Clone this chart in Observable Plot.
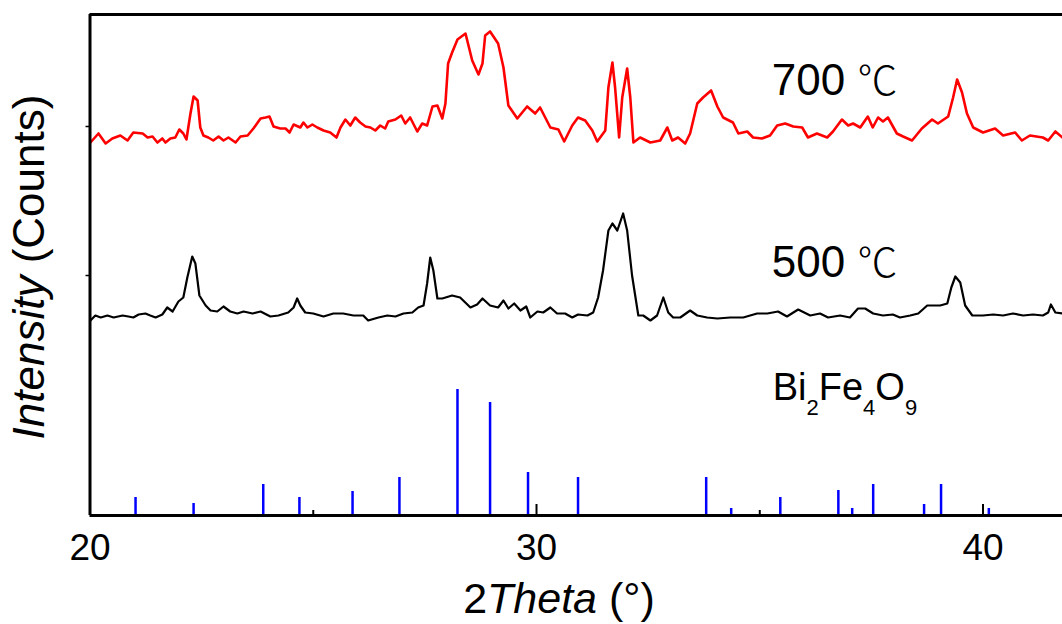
<!DOCTYPE html>
<html><head><meta charset="utf-8">
<script src="https://cdn.jsdelivr.net/npm/d3@7"></script>
<script src="https://cdn.jsdelivr.net/npm/@observablehq/plot@0.6"></script>
<style>html,body{margin:0;padding:0;background:#fff;} svg{display:block;}</style>
</head><body><div id="chart"></div>
<script>
// ---- Data ----
const redTheta = [20.01,20.19,20.35,20.50,20.68,20.84,20.97,21.18,21.29,21.40,
21.51,21.62,21.69,21.80,21.91,22.00,22.09,22.16,22.25,22.32,
22.41,22.47,22.54,22.65,22.76,22.88,22.99,23.10,23.26,23.37,
23.53,23.66,23.82,23.93,24.02,24.11,24.26,24.38,24.47,24.56,
24.71,24.78,24.87,24.98,25.09,25.23,25.38,25.52,25.61,25.72,
25.83,25.94,26.05,26.17,26.28,26.39,26.50,26.61,26.68,26.84,
26.97,27.06,27.17,27.33,27.44,27.55,27.67,27.78,27.89,27.96,
28.02,28.11,28.23,28.41,28.56,28.70,28.79,28.85,28.96,29.14,
29.26,29.37,29.57,29.79,29.97,30.08,30.31,30.49,30.62,30.80,
30.93,31.09,31.25,31.36,31.54,31.61,31.70,31.76,31.85,31.92,
32.03,32.10,32.17,32.32,32.55,32.77,32.93,33.04,33.17,33.33,
33.44,33.60,33.73,33.91,34.05,34.18,34.40,34.52,34.72,34.85,
35.05,35.23,35.39,35.57,35.75,35.95,36.08,36.28,36.51,36.64,
36.84,36.98,37.09,37.25,37.42,37.53,37.65,37.76,37.87,38.07,
38.21,38.41,38.63,38.86,38.99,39.22,39.33,39.42,39.53,39.64,
39.78,40.00,40.27,40.45,40.72,40.87,41.05,41.34,41.46,41.62,
41.78];
const redCounts = [746,764,744,754,760,750,766,764,756,758,
746,754,746,754,756,772,764,752,804,838,
830,776,760,756,750,758,750,756,746,758,
760,774,794,796,798,778,774,774,766,782,
776,786,776,782,776,770,766,756,776,792,
780,796,786,778,776,770,780,774,788,792,
800,784,796,768,784,780,818,820,794,824,
904,926,952,964,910,882,904,960,968,944,
896,820,794,818,804,816,776,772,748,780,
796,790,770,748,770,856,906,856,756,836,
894,836,746,756,746,750,776,750,756,744,
764,824,836,850,818,796,786,764,768,756,
754,760,780,784,778,776,756,764,756,768,
792,780,784,776,798,776,796,788,796,764,
758,750,774,792,784,798,836,872,846,804,
776,766,774,760,766,750,760,756,750,768,
756];

const blackTheta = [20.01,20.12,20.24,20.39,20.53,20.73,20.86,20.97,21.09,21.24,
21.35,21.47,21.62,21.73,21.85,21.98,22.09,22.18,22.29,22.36,
22.45,22.59,22.70,22.85,22.99,23.14,23.30,23.44,23.64,23.82,
24.04,24.22,24.44,24.56,24.64,24.71,24.82,25.00,25.23,25.45,
25.67,25.90,26.12,26.23,26.46,26.66,26.84,27.02,27.22,27.35,
27.47,27.55,27.62,27.69,27.78,27.89,28.11,28.29,28.52,28.67,
28.79,28.96,29.14,29.26,29.37,29.50,29.64,29.77,29.86,30.02,
30.15,30.31,30.46,30.64,30.80,30.93,31.14,31.27,31.38,31.49,
31.61,31.70,31.81,31.94,32.03,32.14,32.28,32.39,32.55,32.70,
32.84,32.95,33.06,33.22,33.44,33.60,33.82,34.05,34.34,34.63,
34.94,35.17,35.41,35.61,35.86,36.13,36.35,36.53,36.80,37.02,
37.20,37.36,37.54,37.76,37.98,38.14,38.37,38.55,38.75,39.04,
39.20,39.29,39.38,39.49,39.60,39.76,40.00,40.23,40.45,40.67,
40.90,41.12,41.34,41.46,41.52,41.62,41.78];
const blackCounts = [390,400,396,400,396,400,398,396,402,404,
400,396,402,416,408,428,436,476,518,504,
440,420,410,408,418,408,404,408,404,408,
398,400,406,416,434,420,406,404,398,404,
404,400,400,390,396,400,398,404,406,416,
420,464,516,490,434,434,440,436,416,422,
434,420,416,430,414,424,410,418,396,408,
406,416,404,404,396,402,400,406,436,490,
570,584,570,604,570,480,400,400,390,400,
436,406,396,396,410,400,396,394,396,396,
404,404,408,398,412,400,404,396,400,396,
414,414,404,400,402,396,400,404,420,420,
424,456,478,466,420,400,400,402,400,404,
400,402,400,406,422,406,404];

// Bi2Fe4O9 reference pattern (stick positions and relative intensities)
const stickTheta = [21.02,22.32,23.88,24.69,25.88,26.93,28.23,28.96,29.81,30.93,33.80,34.36,35.46,36.76,37.07,37.54,38.68,39.06,40.13];
const stickIntensity = [36,24,62,36,48,76,252,226,86,76,76,14,36,50,14,62,22,62,14];

const xMajorTicks = [20, 30, 40];
const xMinorTicks = [25, 35];
const yTicks = [480, 778];

const seriesLabels = ["700", "500"];
const seriesLabelTheta = [35.28, 35.28];
const seriesLabelCounts = [840, 476];
const phaseLabelTheta = 35.30;
const phaseLabelCounts = 200;

// ---- Build tables ----
const red = redTheta.map((t, i) => ({theta: t, counts: redCounts[i]}));
const black = blackTheta.map((t, i) => ({theta: t, counts: blackCounts[i]}));
const sticks = stickTheta.map((t, i) => ({theta: t, intensity: stickIntensity[i]}));

const font = "'Liberation Sans', Arial, Helvetica, sans-serif";

const plot = Plot.plot({
  width: 1062, height: 624,
  marginLeft: 89.5, marginRight: 0, marginTop: 14, marginBottom: 109,
  style: {fontFamily: font, background: "white", overflow: "visible", color: "black"},
  x: {domain: [20, 41.78], axis: null},
  y: {domain: [0, 1002], axis: null},
  marks: [
    Plot.ruleX(sticks, {x: "theta", y1: 0, y2: "intensity", stroke: "#0000ff", strokeWidth: 2.5}),
    Plot.line(red, {x: "theta", y: "counts", stroke: "#ff0000", strokeWidth: 2.6, clip: true}),
    Plot.line(black, {x: "theta", y: "counts", stroke: "#000000", strokeWidth: 2.2, clip: true}),
    Plot.ruleX(xMajorTicks, {x: d => d, y1: 0, y2: 22, stroke: "black", strokeWidth: 2}),
    Plot.ruleX(xMinorTicks, {x: d => d, y1: 0, y2: 10, stroke: "black", strokeWidth: 2}),
    Plot.axisY({ticks: yTicks, tickSize: 4, tickFormat: () => "", strokeWidth: 1.5}),
    Plot.ruleX([20], {stroke: "black", strokeWidth: 3}),
    Plot.ruleY([0, 1002], {stroke: "black", strokeWidth: 3}),
    Plot.text(xMajorTicks, {x: d => d, text: d => String(d), frameAnchor: "bottom", lineAnchor: "top", dy: 18, fontSize: 37, fill: "black"})
  ]
});

document.getElementById("chart").appendChild(plot);

const svg = d3.select(plot);
const sx = plot.scale("x"), sy = plot.scale("y");

// series labels
seriesLabels.forEach((lab, i) => {
  const t = svg.append("text")
    .attr("x", sx.apply(seriesLabelTheta[i]))
    .attr("y", sy.apply(seriesLabelCounts[i]))
    .attr("text-anchor", "start")
    .attr("font-family", font).attr("font-size", 44).attr("fill", "black");
  t.append("tspan").text(lab + " ");
  t.append("tspan").attr("font-family", "'Noto Sans CJK SC', 'DejaVu Sans', sans-serif").attr("font-size", 40).attr("font-weight", 300).text("℃");
});

// phase label Bi2Fe4O9
{
  const t = svg.append("text")
    .attr("x", sx.apply(phaseLabelTheta))
    .attr("y", sy.apply(phaseLabelCounts))
    .attr("text-anchor", "start")
    .attr("font-family", font).attr("font-size", 38).attr("fill", "black");
  const parts = [["Bi", false], ["2", true], ["Fe", false], ["4", true], ["O", false], ["9", true]];
  parts.forEach(([s, sub]) => {
    if (sub) t.append("tspan").attr("font-size", 22).attr("dy", 15).text(s);
    else t.append("tspan").attr("dy", t.selectAll("tspan").size() ? -15 : 0).text(s);
  });
}

// x axis title
{
  const t = svg.append("text")
    .attr("x", 559).attr("y", 613).attr("text-anchor", "middle")
    .attr("font-family", font).attr("font-size", 43).attr("fill", "black");
  t.append("tspan").text("2");
  t.append("tspan").attr("font-style", "italic").text("Theta");
  t.append("tspan").text(" (°)");
}
// y axis title
{
  const t = svg.append("text")
    .attr("transform", "translate(44,267) rotate(-90)").attr("text-anchor", "middle")
    .attr("font-family", font).attr("font-size", 44).attr("fill", "black");
  t.append("tspan").attr("font-style", "italic").text("Intensity");
  t.append("tspan").text(" (Counts)");
}
</script>
</body></html>
